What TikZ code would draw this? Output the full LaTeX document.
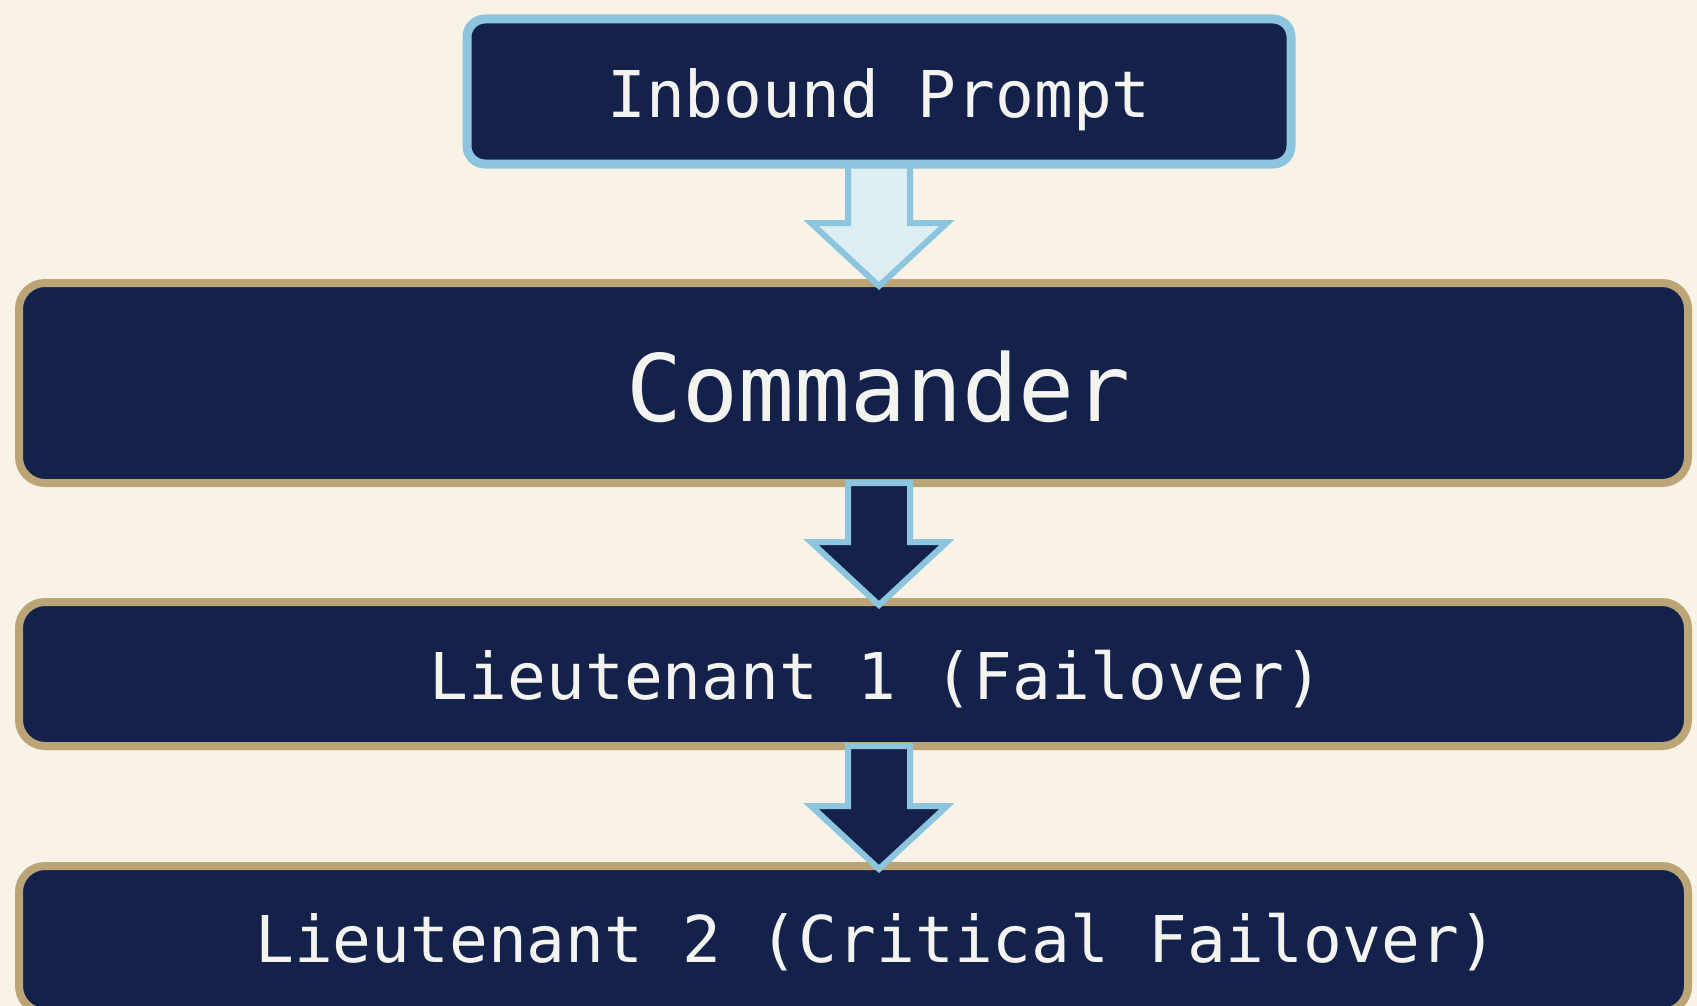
\documentclass[tikz,border=0pt]{standalone}
\usepackage{fontspec}
\newfontfamily\mono{DejaVu Sans Mono}
\usetikzlibrary{calc}
\definecolor{bg}{HTML}{F8F3E6}
\definecolor{navy}{HTML}{13214B}
\definecolor{gold}{HTML}{BBA577}
\definecolor{skyb}{HTML}{8EC5DE}
\definecolor{paleb}{HTML}{DDEFF3}
\definecolor{txtc}{HTML}{F3F3EF}
\pgfdeclarelayer{front}
\pgfsetlayers{main,front}
\newcommand\blockarrow[4]{%
  \draw[arr, fill=#1] let \p1=(#2.center |- #3), \p2=(#2.center |- #4) in
    (\x1-31pt,\y1) -- (\x1+31pt,\y1) -- (\x1+31pt,\y2+60pt) -- (\x1+68pt,\y2+60pt)
    -- (\x1,\y2-3pt) -- (\x1-68pt,\y2+60pt) -- (\x1-31pt,\y2+60pt) -- cycle;}
\begin{document}
\begin{tikzpicture}[x=1pt,y=-1pt,
  box/.style={rectangle, rounded corners=26pt, fill=navy, draw=gold, line width=8pt,
    outer sep=0pt, inner sep=0pt, minimum width=1669pt},
  topbox/.style={rectangle, rounded corners=18pt, fill=navy, draw=skyb, line width=9pt,
    outer sep=0pt, inner sep=0pt, minimum width=824pt, minimum height=145pt},
  lbl/.style={text=txtc, font=\mono\fontsize{64.5}{70}\selectfont, inner sep=0pt,
    text height=47pt, text depth=0pt},
  big/.style={lbl, font=\mono\fontsize{93}{100}\selectfont, text height=68pt},
  arr/.style={line width=6pt, draw=skyb, line join=miter},
]
\useasboundingbox (0,0) rectangle (1697,1006);
\fill[bg] (0,0) rectangle (1697,1006);

\begin{pgfonlayer}{front}
\node[topbox, label={[lbl, yshift=-2.5pt]center:Inbound Prompt}] (inb) at (879,91.5) {};
\end{pgfonlayer}

\node[box, minimum height=200pt, label={[big, xshift=25pt, yshift=-4pt]center:Commander}] (cmd) at (853.5,383) {};
\node[box, minimum height=144pt, label={[lbl, xshift=23pt, yshift=-2pt]center:Lieutenant 1 (Failover)}] (l1) at (853.5,674) {};
\node[box, minimum height=146pt, label={[lbl, xshift=23pt, yshift=0pt]center:Lieutenant 2 (Critical Failover)}] (l2) at (853.5,939) {};

\blockarrow{paleb}{inb}{inb.south}{cmd.north}
\blockarrow{navy}{inb}{cmd.south}{l1.north}
\blockarrow{navy}{inb}{l1.south}{l2.north}
\end{tikzpicture}
\end{document}
